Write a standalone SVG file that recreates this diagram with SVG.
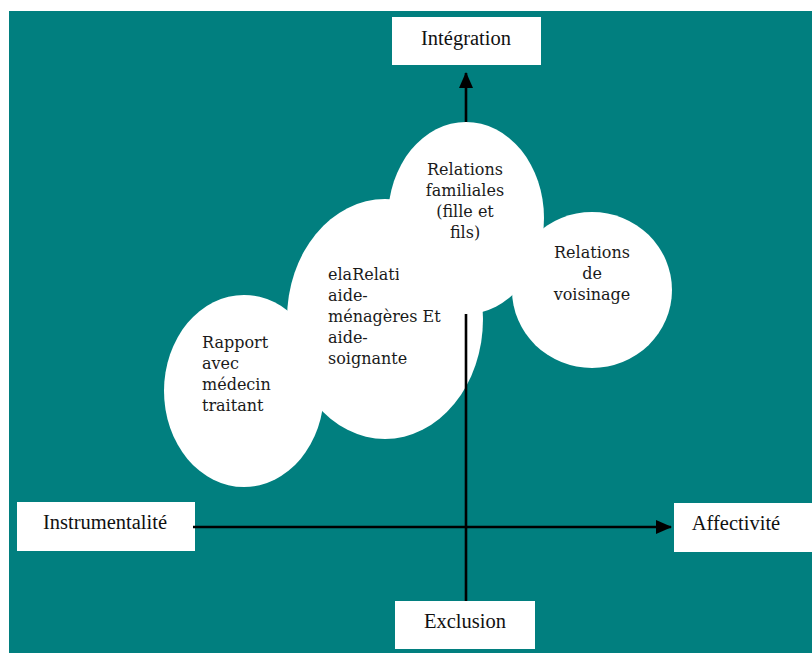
<svg xmlns="http://www.w3.org/2000/svg" width="812" height="653" viewBox="0 0 812 653">
  <style>
    .bg { fill: #017f7f; }
    .box { fill: #ffffff; }
    .blob { fill: #ffffff; }
    .axis { stroke: #000000; stroke-width: 2.6; fill: none; }
    .lbl { font-family: "Liberation Serif", "Times New Roman", serif; font-size: 20.5px; fill: #111111; text-anchor: middle; }
    .txt { font-family: "DejaVu Serif", Georgia, serif; font-size: 16px; fill: #1a1a1a; }
    .mid { text-anchor: middle; }
  </style>
  <defs>
    <marker id="head" markerUnits="userSpaceOnUse" markerWidth="16" markerHeight="16" viewBox="0 0 16 16" refX="15" refY="8" orient="auto">
      <path d="M0,1 L16,8 L0,15 Z" fill="#000000"/>
    </marker>
    <clipPath id="cut">
      <rect x="320" y="260" width="79" height="30"/>
    </clipPath>
  </defs>

  <rect class="bg" x="9" y="11" width="803" height="642"/>

  <!-- axis end labels -->
  <g id="integration">
    <rect class="box" x="392" y="17" width="149" height="48"/>
    <text class="lbl" x="466" y="45">Intégration</text>
  </g>
  <g id="instrumentalite">
    <rect class="box" x="17" y="502" width="178" height="49"/>
    <text class="lbl" x="105" y="529">Instrumentalité</text>
  </g>
  <g id="affectivite">
    <rect class="box" x="674" y="503" width="138" height="49"/>
    <text class="lbl" x="736" y="530">Affectivité</text>
  </g>
  <g id="exclusion">
    <rect class="box" x="395" y="601" width="140" height="48"/>
    <text class="lbl" x="465" y="628">Exclusion</text>
  </g>

  <!-- relation bubbles behind the axes -->
  <g id="medecin">
    <ellipse class="blob" cx="244" cy="391" rx="80" ry="96"/>
    <text class="txt" x="202" y="348">Rapport</text>
    <text class="txt" x="202" y="369">avec</text>
    <text class="txt" x="202" y="390">médecin</text>
    <text class="txt" x="202" y="411">traitant</text>
  </g>
  <g id="aides">
    <ellipse class="blob" cx="385" cy="319" rx="98" ry="120"/>
    <text class="txt" x="328" y="280" clip-path="url(#cut)">elaRelations</text>
    <text class="txt" x="328" y="301">aide-</text>
    <text class="txt" x="328" y="322">ménagères Et</text>
    <text class="txt" x="328" y="343">aide-</text>
    <text class="txt" x="328" y="364">soignante</text>
  </g>

  <!-- axes -->
  <g id="connectors">
    <line class="axis" x1="466" y1="601" x2="466" y2="73" marker-end="url(#head)"/>
    <line class="axis" x1="193" y1="527" x2="671" y2="527" marker-end="url(#head)"/>
  </g>

  <!-- bubbles drawn over the vertical axis -->
  <g id="familiales">
    <ellipse class="blob" cx="466" cy="218" rx="78" ry="96"/>
    <text class="txt mid" x="465" y="175">Relations</text>
    <text class="txt mid" x="465" y="196">familiales</text>
    <text class="txt mid" x="465" y="217">(fille et</text>
    <text class="txt mid" x="465" y="238">fils)</text>
  </g>
  <g id="voisinage">
    <ellipse class="blob" cx="592" cy="290" rx="80" ry="78"/>
    <text class="txt mid" x="592" y="258">Relations</text>
    <text class="txt mid" x="592" y="279">de</text>
    <text class="txt mid" x="592" y="300">voisinage</text>
  </g>
</svg>
